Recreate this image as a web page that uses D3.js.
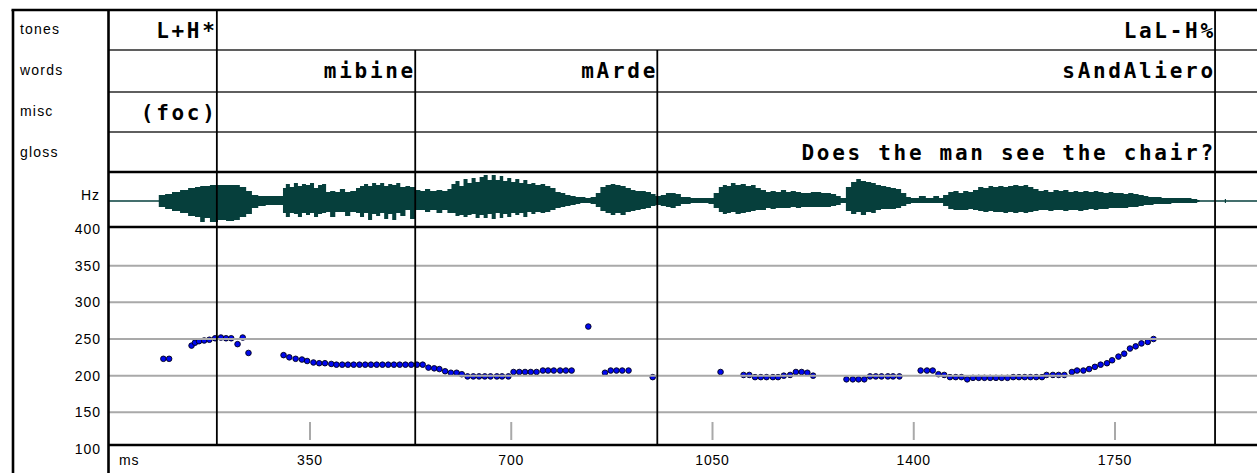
<!DOCTYPE html>
<html><head><meta charset="utf-8">
<script src="https://cdn.jsdelivr.net/npm/d3@7"></script>
<style>
html,body{margin:0;padding:0;background:#fff;}
svg{display:block;}
</style></head>
<body>
<svg id="c" width="1257" height="473"></svg>
<script>
// ---------- data ----------
const tierNames = ["tones", "words", "misc", "gloss"];
// intervals: [label, end time ms]
const tonesTier = [["L+H*", 188], ["LaL-H%", 1924]];
const wordsTier = [["", 188], ["mibine", 533], ["mArde", 954], ["sAndAliero", 1924]];
const miscTier  = [["(foc)", 188], ["", 1924]];
const glossTier = [["", 188], ["", 533], ["", 954], ["Does the man see the chair?", 1924]];

const xTicks = [350, 700, 1050, 1400, 1750];
const yTicks = [100, 150, 200, 250, 300, 350, 400];
const yGrid  = [150, 200, 250, 300, 350];

// F0 track: [time ms, Hz]
const f0 = [
 [95,223],[105,223],[144,241],[150,245],[157,247],[166,248],[175,249],[185,251],[195,252],[204,251],[213,251],[224,243],[233,252],[243,231],
 [304,228],[314,225],[325,223],[336,222],[345,220],[356,218],[366,217],[376,217],[387,216],[396,215],[406,215],[416,215],[426,215],[436,215],
 [446,215],[456,215],[466,215],[476,215],[486,215],[496,215],[506,215],[516,215],[526,215],[536,215],[546,215],
 [556,211],[566,210],[575,209],[585,206],[595,204],[605,204],[614,202],[624,199],[634,199],[644,199],[654,199],[664,199],[675,199],[684,199],[695,199],
 [704,205],[714,205],[724,205],[734,205],[744,205],[755,207],[764,207],[774,207],[785,207],[795,207],[805,207],
 [834,267],
 [863,204],[873,207],[883,207],[893,207],[904,207],
 [946,198],
 [1064,205],
 [1104,201],[1114,201],[1124,198],[1134,198],[1144,198],[1155,198],[1164,198],[1174,200],[1185,201],[1195,205],[1205,205],[1215,204],[1225,200],
 [1283,195],[1294,195],[1304,195],[1314,195],[1324,199],[1334,199],[1344,199],[1355,199],[1364,199],[1375,199],
 [1412,207],[1423,207],[1433,207],[1443,202],[1453,201],[1463,198],[1473,198],[1483,198],[1493,195],[1503,197],[1513,197],[1523,197],[1533,197],
 [1543,197],[1553,197],[1563,197],[1573,198],[1583,198],[1593,198],[1603,198],[1613,198],[1623,198],[1631,201],[1642,201],[1652,201],[1662,201],
 [1675,205],[1684,207],[1695,207],[1705,209],[1715,212],[1725,215],[1736,217],[1745,221],[1756,226],[1766,230],[1776,237],[1786,240],[1796,244],[1807,246],[1817,250]
];

// waveform envelope: [time ms, upper amplitude, lower amplitude]
const wave = [
 [0,0,0],[85,0,0],[87,6,6],[98,7,8],[110,9,10],[124,11,12],[138,13,15],[150,14,16],[159,15,21],[167,15,17],[176,16,21],[190,16,19],[204,16,20],[218,16,19],
 [228,14,16],[239,10,13],[249,6,7],[260,5,5],[273,5,4],[287,5,4],[300,5,4],[303,13,12],[308,17,16],[315,14,12],[322,18,13],[329,15,16],[336,17,12],
 [343,16,14],[350,18,12],[357,13,16],[364,16,13],[371,17,12],[378,9,11],[385,10,16],[394,9,11],[402,12,11],[411,9,15],[420,10,11],[430,13,12],
 [437,15,16],[444,17,12],[451,15,19],[458,18,13],[465,16,15],[472,18,12],[479,15,18],[486,17,13],[493,16,19],[500,18,12],[507,14,15],[516,15,9],
 [524,14,18],[533,11,9],[542,10,9],[550,12,11],[559,10,9],[570,11,12],[580,10,9],[589,12,12],[596,17,12],[603,20,15],[610,15,14],[617,22,16],
 [624,18,14],[631,23,13],[638,19,17],[645,24,14],[652,26,17],[659,21,13],[666,26,18],[673,21,12],[680,25,17],[686,20,13],[693,23,16],[700,19,12],
 [707,22,14],[714,18,12],[721,21,16],[728,17,11],[735,18,13],[742,16,11],[751,17,12],[759,15,11],[768,13,9],[777,9,7],[786,8,6],[794,6,5],
 [803,5,4],[812,4,3],[820,4,2],[829,3,2],[838,4,3],[847,8,6],[855,14,10],[864,16,12],[873,17,14],[881,16,12],[890,15,14],[899,13,11],[908,11,10],
 [916,10,9],[925,10,8],[934,9,7],[943,7,5],[951,5,4],[960,6,5],[969,8,6],[977,8,7],[986,7,5],[995,4,3],[1012,3,2],[1030,3,2],[1043,3,3],
 [1052,8,7],[1061,14,11],[1068,16,13],[1075,15,12],[1082,18,11],[1090,16,13],[1099,17,12],[1108,15,11],[1117,16,10],[1125,13,9],[1134,11,9],
 [1143,9,7],[1151,10,8],[1160,9,7],[1169,11,7],[1178,9,7],[1186,10,6],[1195,9,7],[1204,8,6],[1221,9,6],[1239,8,6],[1256,7,5],[1265,5,4],
 [1273,3,2],[1282,14,10],[1291,19,13],[1300,22,11],[1308,20,14],[1317,19,11],[1326,18,12],[1334,16,9],[1343,15,8],[1352,14,8],[1360,13,8],
 [1369,12,7],[1378,8,5],[1387,4,3],[1395,3,2],[1409,5,2],[1421,3,2],[1434,5,2],[1444,3,2],[1451,6,5],[1460,9,8],[1469,10,9],[1478,8,9],
 [1486,10,9],[1495,9,8],[1503,11,9],[1512,14,10],[1521,13,11],[1530,15,10],[1538,14,11],[1547,15,11],[1556,14,12],[1564,15,11],[1573,16,12],
 [1582,15,11],[1591,16,12],[1599,14,11],[1608,12,10],[1617,10,9],[1626,11,9],[1634,9,10],[1643,11,9],[1652,10,9],[1660,11,10],[1669,9,9],
 [1678,10,9],[1686,9,10],[1695,10,9],[1704,9,8],[1713,10,9],[1721,9,8],[1730,8,8],[1739,9,7],[1747,8,7],[1756,8,7],[1765,7,7],[1773,8,6],
 [1782,7,6],[1791,6,5],[1800,5,4],[1808,4,4],[1817,4,3],[1831,3,3],[1848,3,2],[1866,3,2],[1883,2,2],[1893,1,1],[1897,0,0],[1939,0,0],
 [1941,2,2],[1943,0,0],[2000,0,0]
];

// ---------- layout ----------
const svg = d3.select("#c");
const W = 1257, H = 473;
const leftX = 13, divX = 108.5, topY = 10;
const rowTops = [10, 50, 92, 132, 172];   // tier rows
const waveTop = 172, waveBot = 227, pitchBot = 445;

const x = d3.scaleLinear().domain([0, 2000]).range([108.75, 108.75 + 2000 * 0.575]);
const y = d3.scaleLinear().domain([100, 400]).range([449, 229]);
const amp = d3.scaleLinear().domain([-27, 27]).range([228, 174]);

const tiers = [tonesTier, wordsTier, miscTier, glossTier];
const tierFont = "'DejaVu Sans Mono', monospace";
const labelFont = "'Liberation Sans', Arial, sans-serif";

svg.append("rect").attr("width", W).attr("height", H).attr("fill", "#fff");

// waveform
const waveColor = "#063f3c";
svg.append("line").attr("x1", x(0)).attr("x2", W).attr("y1", amp(0)).attr("y2", amp(0))
  .attr("stroke", waveColor).attr("stroke-width", 1.3);
svg.append("path").datum(wave)
  .attr("d", d3.area().curve(d3.curveStepAfter)
     .x(d => x(d[0])).y0(d => amp(-d[2])).y1(d => amp(d[1])))
  .attr("fill", waveColor);

// F0 dots
svg.append("g").selectAll("circle").data(f0).join("circle")
  .attr("cx", d => x(d[0])).attr("cy", d => y(d[1])).attr("r", 2.8)
  .attr("fill", "#0008ee").attr("stroke", "#000018").attr("stroke-width", 0.9);

// grid lines (drawn over dots, as in the reference)
svg.append("g").selectAll("line").data(yGrid).join("line")
  .attr("x1", divX).attr("x2", W).attr("y1", d => y(d)).attr("y2", d => y(d))
  .attr("stroke", "#a9a9a9").attr("stroke-width", 2);

// x tick marks
svg.append("g").selectAll("line").data(xTicks).join("line")
  .attr("x1", d => x(d)).attr("x2", d => x(d)).attr("y1", 422).attr("y2", 440)
  .attr("stroke", "#a9a9a9").attr("stroke-width", 2);

// thin tier separators
[50, 92, 132].forEach(v => {
  svg.append("line").attr("x1", divX).attr("x2", W).attr("y1", v).attr("y2", v)
    .attr("stroke", "#2a2a2a").attr("stroke-width", 1.6);
});

// boundary lines: from the first tier that holds the boundary down to pitch panel bottom
const bounds = new Map();
tiers.forEach((tier, i) => tier.forEach(iv => {
  if (!bounds.has(iv[1])) bounds.set(iv[1], i);
}));
svg.append("g").selectAll("line").data(Array.from(bounds)).join("line")
  .attr("x1", d => x(d[0])).attr("x2", d => x(d[0]))
  .attr("y1", d => rowTops[d[1]]).attr("y2", pitchBot)
  .attr("stroke", "#000").attr("stroke-width", 1.8);

// thick frame lines
const thick = (x1, y1, x2, y2, w) => svg.append("line")
  .attr("x1", x1).attr("y1", y1).attr("x2", x2).attr("y2", y2)
  .attr("stroke", "#000").attr("stroke-width", w);
thick(leftX - 1.5, topY, W, topY, 2.6);
thick(leftX, topY, leftX, H, 2.6);
thick(divX, topY, divX, H, 2.6);
thick(divX, waveTop, W, waveTop, 2.6);
thick(divX, waveBot, W, waveBot, 2.6);
thick(divX, pitchBot, W, pitchBot, 2.6);

// tier texts (right aligned to interval end)
const ls = 2.7;
tiers.forEach((tier, i) => {
  svg.append("g").selectAll("text").data(tier.filter(d => d[0] !== "")).join("text")
    .attr("x", d => x(d[1]) - 2 + ls)
    .attr("y", rowTops[i] + 28)
    .attr("text-anchor", "end")
    .attr("font-family", tierFont).attr("font-weight", "bold")
    .attr("font-size", 21).attr("letter-spacing", ls)
    .attr("fill", "#000")
    .text(d => d[0]);
});

// tier names
const nameBase = [34, 75, 116, 157];
svg.append("g").selectAll("text").data(tierNames).join("text")
  .attr("x", 20).attr("y", (d, i) => nameBase[i])
  .attr("font-family", labelFont).attr("font-size", 14).attr("letter-spacing", 1.2)
  .attr("fill", "#000").text(d => d);

// Hz label
svg.append("text").attr("x", 100).attr("y", 200).attr("text-anchor", "end")
  .attr("font-family", labelFont).attr("font-size", 14).attr("letter-spacing", 1)
  .text("Hz");

// y tick labels
svg.append("g").selectAll("text").data(yTicks).join("text")
  .attr("x", 101).attr("y", d => y(d)).attr("dy", "0.36em")
  .attr("text-anchor", "end")
  .attr("font-family", labelFont).attr("font-size", 14).attr("letter-spacing", 1)
  .text(d => d);

// x tick labels
svg.append("g").selectAll("text").data(xTicks).join("text")
  .attr("x", d => x(d)).attr("y", 465)
  .attr("text-anchor", "middle")
  .attr("font-family", labelFont).attr("font-size", 14).attr("letter-spacing", 0.8)
  .text(d => d);
svg.append("text").attr("x", 119).attr("y", 465)
  .attr("font-family", labelFont).attr("font-size", 14).attr("letter-spacing", 0.8)
  .text("ms");
</script>
</body></html>
